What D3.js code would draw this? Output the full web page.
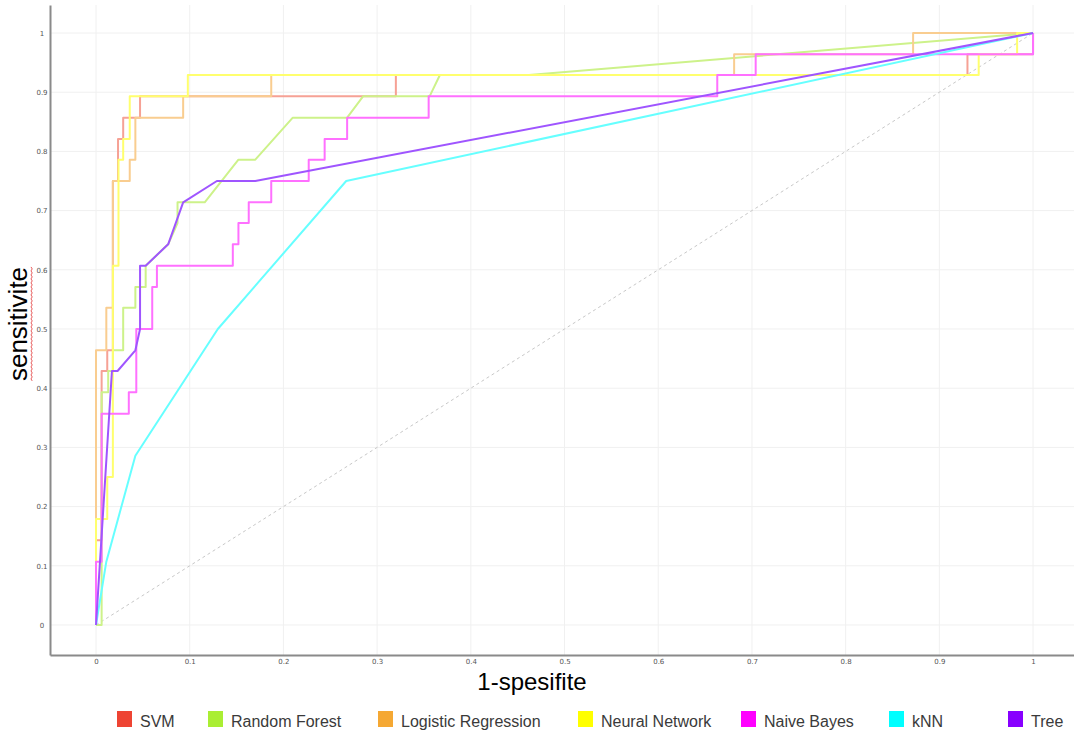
<!DOCTYPE html>
<html>
<head>
<meta charset="utf-8">
<script src="https://cdn.jsdelivr.net/npm/d3@7"></script>
<style>
  html, body { margin: 0; padding: 0; background: #fff; }
  svg { display: block; }
</style>
</head>
<body>
<svg id="chart" width="1074" height="736"></svg>
<script>
// ROC curves: [1 - specificity, sensitivity] pairs per classifier
const svm = [[0,0],[0,0.143],[0.006,0.143],[0.006,0.429],[0.012,0.429],[0.012,0.464],[0.018,0.464],[0.018,0.75],[0.0235,0.75],[0.0235,0.821],[0.029,0.821],[0.029,0.857],[0.047,0.857],[0.047,0.893],[0.32,0.893],[0.32,0.929],[0.93,0.929],[0.93,0.964],[1,0.964],[1,1]];
const randomForest = [[0,0],[0.006,0],[0.006,0.393],[0.013,0.393],[0.013,0.429],[0.018,0.429],[0.018,0.464],[0.029,0.464],[0.029,0.536],[0.042,0.536],[0.042,0.571],[0.053,0.571],[0.053,0.607],[0.077,0.643],[0.087,0.679],[0.087,0.714],[0.116,0.714],[0.152,0.786],[0.17,0.786],[0.21,0.857],[0.268,0.857],[0.285,0.893],[0.356,0.893],[0.367,0.929],[0.462,0.929],[1,1]];
const logisticRegression = [[0,0],[0,0.464],[0.011,0.464],[0.011,0.536],[0.018,0.536],[0.018,0.75],[0.036,0.75],[0.036,0.786],[0.042,0.786],[0.042,0.857],[0.093,0.857],[0.093,0.893],[0.187,0.893],[0.187,0.929],[0.681,0.929],[0.681,0.964],[0.872,0.964],[0.872,1],[1,1]];
const neuralNetwork = [[0,0],[0,0.179],[0.012,0.179],[0.012,0.25],[0.018,0.25],[0.018,0.607],[0.024,0.607],[0.024,0.786],[0.029,0.786],[0.029,0.821],[0.036,0.821],[0.036,0.893],[0.098,0.893],[0.098,0.929],[0.942,0.929],[0.942,0.964],[0.983,0.964],[0.983,1],[1,1]];
const naiveBayes = [[0,0],[0,0.107],[0.006,0.107],[0.006,0.357],[0.035,0.357],[0.035,0.393],[0.043,0.393],[0.043,0.5],[0.06,0.5],[0.06,0.571],[0.065,0.571],[0.065,0.607],[0.146,0.607],[0.146,0.643],[0.152,0.643],[0.152,0.679],[0.163,0.679],[0.163,0.714],[0.187,0.714],[0.187,0.75],[0.227,0.75],[0.227,0.786],[0.244,0.786],[0.244,0.821],[0.268,0.821],[0.268,0.857],[0.355,0.857],[0.355,0.893],[0.663,0.893],[0.663,0.929],[0.704,0.929],[0.704,0.964],[1,0.964],[1,1]];
const knn = [[0,0],[0.011,0.107],[0.042,0.286],[0.13,0.5],[0.267,0.75],[1,1]];
const tree = [[0,0],[0.017,0.429],[0.023,0.429],[0.042,0.464],[0.047,0.5],[0.047,0.607],[0.053,0.607],[0.077,0.643],[0.093,0.714],[0.129,0.75],[0.17,0.75],[1,1]];

const seriesNames = ["SVM", "Random Forest", "Logistic Regression", "Neural Network", "Naive Bayes", "kNN", "Tree"];
const seriesValues = [svm, randomForest, logisticRegression, neuralNetwork, naiveBayes, knn, tree];
// legend swatch colours and the lighter tints used for the curves
const seriesColors = ["#ee4433", "#aaee33", "#f5a833", "#ffff00", "#ff00ff", "#00ffff", "#8800ff"];
const curveColors = ["#f6a195", "#cdf28a", "#f9cd90", "#ffff6e", "#ff70ff", "#66ffff", "#9f55ff"];

const xTicks = [0, 0.1, 0.2, 0.3, 0.4, 0.5, 0.6, 0.7, 0.8, 0.9, 1];
const yTicks = [0, 0.1, 0.2, 0.3, 0.4, 0.5, 0.6, 0.7, 0.8, 0.9, 1];
const xTitle = "1-spesifite";
const yTitle = "sensitivite";

const svg = d3.select("#chart");

const x = d3.scaleLinear().domain([-0.0491, 1.0437]).range([50, 1074]);
const y = d3.scaleLinear().domain([-0.0507, 1.0473]).range([655, 5]);

// grid
const grid = svg.append("g");
grid.selectAll("line.vx").data(xTicks).join("line")
  .attr("x1", d => x(d)).attr("x2", d => x(d))
  .attr("y1", y.range()[1]).attr("y2", y.range()[0])
  .attr("stroke", "#f0f0f0").attr("stroke-width", 1);
grid.selectAll("line.hy").data(yTicks).join("line")
  .attr("x1", x.range()[0]).attr("x2", x.range()[1])
  .attr("y1", d => y(d)).attr("y2", d => y(d))
  .attr("stroke", "#f0f0f0").attr("stroke-width", 1);

// chance diagonal
svg.append("line")
  .attr("x1", x(0)).attr("y1", y(0))
  .attr("x2", x(1)).attr("y2", y(1))
  .attr("stroke", "#c8c8c8").attr("stroke-width", 1)
  .attr("stroke-dasharray", "3,3");

// curves
const line = d3.line().x(d => x(d[0])).y(d => y(d[1]));
const curves = svg.append("g").attr("fill", "none");
seriesValues.forEach((vals, i) => {
  curves.append("path")
    .attr("d", line(vals))
    .attr("stroke", curveColors[i])
    .attr("stroke-width", 2)
    .attr("stroke-linejoin", "round");
});

// axes
const fmt = d => d3.format("~g")(+d.toFixed(1));
const xAxis = svg.append("g")
  .attr("transform", `translate(0,${y.range()[0]})`)
  .call(d3.axisBottom(x).tickValues(xTicks).tickFormat(fmt).tickSize(0).tickPadding(4));
const yAxis = svg.append("g")
  .attr("transform", `translate(${x.range()[0]},0)`)
  .call(d3.axisLeft(y).tickValues(yTicks).tickFormat(fmt).tickSize(0).tickPadding(8));

[xAxis, yAxis].forEach(g => {
  g.select(".domain").attr("stroke", "#8a8a8a").attr("stroke-width", 2);
  g.selectAll("text").attr("font-family", "DejaVu Sans").attr("font-size", 7).attr("fill", "#555");
});
yAxis.selectAll("text").attr("text-anchor", "middle").attr("x", -8);

// axis titles
svg.append("text")
  .attr("x", 532).attr("y", 690)
  .attr("text-anchor", "middle")
  .attr("font-family", "Liberation Sans").attr("font-size", 24)
  .attr("fill", "#000")
  .text(xTitle);

const yt = svg.append("text")
  .attr("transform", "translate(27,324) rotate(-90)")
  .attr("text-anchor", "middle")
  .attr("font-family", "Liberation Sans").attr("font-size", 26)
  .attr("fill", "#000")
  .text(yTitle);

// spell-check squiggle beside the y title
const tw = yt.node().getComputedTextLength();
const wave = [];
for (let yy = 324 - tw / 2; yy <= 324 + tw / 2; yy += 2) {
  wave.push([31 + ((Math.round((yy - (324 - tw / 2)) / 2) % 2) ? 1.2 : 0), yy]);
}
svg.append("path")
  .attr("d", d3.line()(wave))
  .attr("fill", "none").attr("stroke", "#e03030").attr("stroke-width", 0.8);

// legend, one swatch + label per classifier
const legendX = [117, 208, 378, 578, 741, 889, 1008];
const legend = svg.append("g").attr("font-family", "Liberation Sans").attr("font-size", 16);
seriesNames.forEach((name, i) => {
  legend.append("rect")
    .attr("x", legendX[i]).attr("y", 711).attr("width", 15).attr("height", 16)
    .attr("fill", seriesColors[i]);
  legend.append("text")
    .attr("x", legendX[i] + 23).attr("y", 727)
    .attr("fill", "#3a3a3a")
    .text(name);
});
</script>
</body>
</html>
